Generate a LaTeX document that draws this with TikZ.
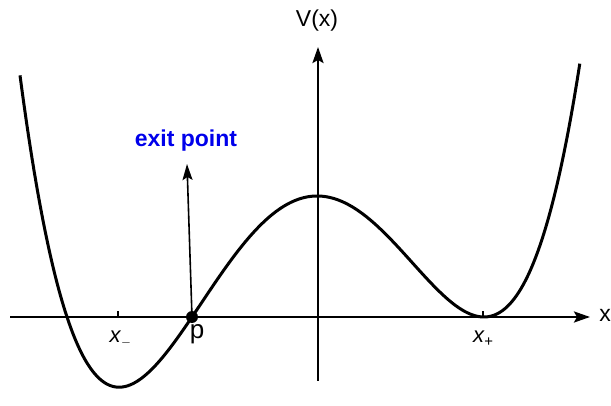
\documentclass[tikz,border=0pt]{standalone}
\usepackage{fontspec}
\setmainfont{Liberation Sans}
\usetikzlibrary{arrows.meta}
\begin{document}
\begin{tikzpicture}[x=0.5pt,y=-0.5pt,
  axis/.style={line width=1.2pt,-{Stealth[length=8pt,width=5.5pt,inset=1.5pt]}},
  curve/.style={line width=1.5pt},
  exitarrow/.style={line width=0.8pt,-{Stealth[length=8pt,width=5pt,inset=1.5pt]}},
  lbl/.style={inner sep=0pt,font=\fontsize{11.5}{13}\selectfont},
  tick/.style={line width=1pt}]
\useasboundingbox (0,0) rectangle (611,406);
% axes
\coordinate (xl) at (10,317);
\coordinate (xr) at (590,317);
\coordinate (yb) at (318,381);
\coordinate (yt) at (318,47);
\draw[axis] (xl) -- (xr);
\draw[axis] (yb) -- (yt);
\node[lbl,anchor=west] (xlab) at (599,315) {x};
\node[lbl] (vlab) at (317,21) {V(x)};
% curve
\draw[curve,domain=-2.98:2.62,samples=240,smooth]
  plot ({318+100*\x},{317-13.884*(\x-1.66)*(\x-1.66)*(\x+1.26)*(\x+2.51)});
% ticks
\coordinate (tm) at (118,317);
\coordinate (tp) at (483,317);
\draw[tick] (tm) -- ++(0,-6);
\draw[tick] (tp) -- ++(0,-6);
\node[inner sep=0pt,font=\fontsize{11}{13}\selectfont\itshape] (xm) at (121,339) {x$_{\textstyle\scriptscriptstyle -}$};
\node[inner sep=0pt,font=\fontsize{11}{13}\selectfont\itshape] (xp) at (483,339) {x\raisebox{-2pt}{\fontsize{7.5}{8}\selectfont +}};
% point p
\coordinate (p) at (192,317);
\fill (p) circle (3pt);
\node[inner sep=0pt,font=\fontsize{13}{15}\selectfont] (plab) at (197,334) {p};
% exit point
\coordinate (ex) at (187,164);
\draw[exitarrow] (p) -- (ex);
\node[inner sep=0pt,text=blue!92!black,font=\bfseries\fontsize{11.5}{13}\selectfont] (exl) at (186,141) {exit point};
\end{tikzpicture}
\end{document}
